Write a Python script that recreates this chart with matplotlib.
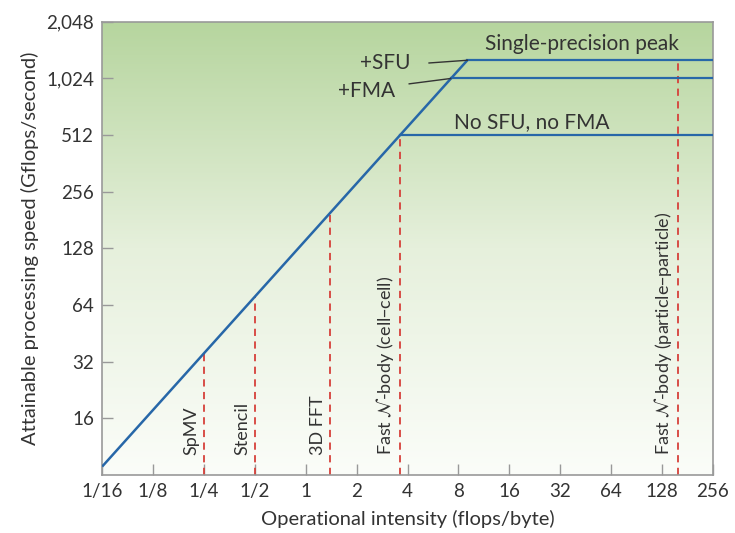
import numpy as np
import matplotlib.pyplot as plt
from matplotlib.colors import LinearSegmentedColormap

plt.rcParams['font.family'] = ['Lato', 'DejaVu Sans']
plt.rcParams['mathtext.fontset'] = 'dejavusans'

# roofline
diag_x = [1/16, 9.03]
diag_y = [8.86, 1280]
ceil_y = [1280, 1024, 512]
ceil_start = [9.03, 7.2, 3.6]

kernels = ['SpMV', 'Stencil', '3D FFT',
           r'Fast $\mathcal{N}$-body (cell–cell)',
           r'Fast $\mathcal{N}$-body (particle–particle)']
kernel_x = [0.25, 0.5, 1.4, 3.6, 160]
kernel_top = [35.4, 71, 198, 512, 1280]

x_ticks = [1/16, 1/8, 1/4, 1/2, 1, 2, 4, 8, 16, 32, 64, 128, 256]
x_labels = ['1/16', '1/8', '1/4', '1/2', '1', '2', '4', '8', '16', '32', '64', '128', '256']
y_ticks = [16, 32, 64, 128, 256, 512, 1024, 2048]
y_labels = ['16', '32', '64', '128', '256', '512', '1,024', '2,048']

blue = '#2767a8'
red = '#d6403a'
txt = '#333333'

fig = plt.figure(figsize=(7.35, 5.33), dpi=100)
ax = fig.add_axes([0.139, 0.109, 0.831, 0.85])
ax.set_xscale('log', base=2)
ax.set_yscale('log', base=2)
ax.set_xlim(1/16, 256)
ax.set_ylim(8, 2048)

# green-to-white background
cmap = LinearSegmentedColormap.from_list('bg', ['#fbfdf9', '#e6f0dc', '#b6d59e'])
grad = np.linspace(0, 1, 256).reshape(-1, 1)
ax.imshow(grad, cmap=cmap, origin='lower', aspect='auto',
          extent=[0, 1, 0, 1], transform=ax.transAxes, zorder=0)

ax.plot(diag_x, diag_y, color=blue, lw=1.8, zorder=3, solid_capstyle='butt')
for y, xs in zip(ceil_y, ceil_start):
    ax.plot([xs, 256], [y, y], color=blue, lw=1.6, zorder=3)

for name, kx, top in zip(kernels, kernel_x, kernel_top):
    ax.plot([kx, kx], [8, top], color=red, lw=1.3, ls=(0, (4, 3)), zorder=2)
    ax.annotate(name, (kx, 10.2), xytext=(-3, 0), textcoords='offset points',
                rotation=90, ha='right', va='bottom', fontsize=13, color=txt)

ax.text(43, 1560, 'Single-precision peak', ha='center', va='center', fontsize=15, color=txt)
ax.text(21.8, 603, 'No SFU, no FMA', ha='center', va='center', fontsize=15, color=txt)
ax.text(4.14, 1238, '+SFU', ha='right', va='center', fontsize=15, color=txt)
ax.text(3.38, 881, '+FMA', ha='right', va='center', fontsize=15, color=txt)
ax.plot([5.36, 9.03], [1238, 1280], color='#333333', lw=1.0, zorder=3)
ax.plot([4.09, 7.2], [959, 1024], color='#333333', lw=1.0, zorder=3)

ax.set_xticks(x_ticks)
ax.set_xticklabels(x_labels)
ax.set_yticks(y_ticks)
ax.set_yticklabels(y_labels)
ax.minorticks_off()
ax.tick_params(direction='in', length=8, width=1, color='#999999',
               labelsize=13.5, labelcolor=txt, pad=6)
for s in ax.spines.values():
    s.set_color('#999999')
    s.set_linewidth(1.2)

ax.set_xlabel('Operational intensity (flops/byte)', fontsize=14.5, color=txt, labelpad=7)
ax.set_ylabel('Attainable processing speed (Gflops/second)', fontsize=14.5, color=txt, labelpad=5)

fig.savefig('out.png', dpi=100)
